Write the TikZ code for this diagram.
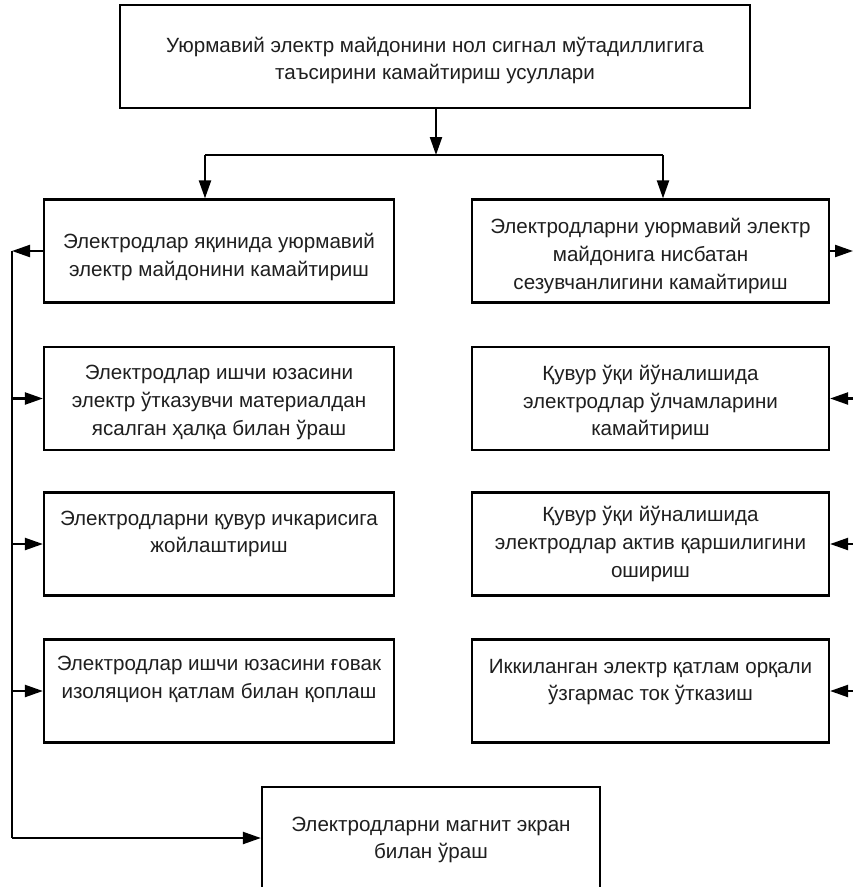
\documentclass[tikz,border=0pt]{standalone}
\usepackage{fontspec}
\setmainfont{Liberation Sans}
\usetikzlibrary{arrows.meta,calc}
\begin{document}
\begin{tikzpicture}[x=1pt,y=-1pt,
  box/.style={draw, line width=2.2pt, inner sep=0pt},
  txt/.style={align=center, inner sep=0pt,
    font=\fontsize{20.6}{27.8}\selectfont, text=black!88},
  lbox/.style={box, minimum width=350pt, minimum height=103pt},
  rbox/.style={box, minimum width=357pt, minimum height=103pt},
  conn/.style={line width=2.2pt},
  arr/.style={conn, -{Triangle[length=18pt,width=12pt]}}]
\useasboundingbox (0,0) rectangle (853,887);
\fill[white] (0,0) rectangle (853,887);

\node[box, minimum width=630pt, minimum height=103pt] (top) at (435,56.5) {};
\node[txt] (topt) at ($(top)+(0,4)$)
  {Уюрмавий электр майдонини нол сигнал мўтадиллигига\\таъсирини камайтириш усуллари};

\node[lbox] (L1) at (219,251) {};
\node[txt] (L1t) at ($(L1)+(0,6)$) {Электродлар яқинида уюрмавий\\электр майдонини камайтириш};
\node[lbox] (L2) at (219,398.5) {};
\node[txt] (L2t) at ($(L2)+(0,4)$) {Электродлар ишчи юзасини\\электр ўтказувчи материалдан\\ясалган ҳалқа билан ўраш};
\node[lbox] (L3) at (219,544) {};
\node[txt] (L3t) at ($(L3)+(0,-10)$) {Электродларни қувур ичкарисига\\жойлаштириш};
\node[lbox] (L4) at (219,691) {};
\node[txt] (L4t) at ($(L4)+(0,-12)$) {Электродлар ишчи юзасини ғовак\\изоляцион қатлам билан қоплаш};

\node[rbox] (R1) at (650.5,251) {};
\node[txt] (R1t) at ($(R1)+(0,5)$) {Электродларни уюрмавий электр\\майдонига нисбатан\\сезувчанлигини камайтириш};
\node[rbox] (R2) at (650.5,398.5) {};
\node[txt] (R2t) at ($(R2)+(0,4)$) {Қувур ўқи йўналишида\\электродлар ўлчамларини\\камайтириш};
\node[rbox] (R3) at (650.5,544) {};
\node[txt] (R3t) at ($(R3)+(0,0)$) {Қувур ўқи йўналишида\\электродлар актив қаршилигини\\ошириш};
\node[rbox] (R4) at (650.5,691) {};
\node[txt] (R4t) at ($(R4)+(0,-9)$) {Иккиланган электр қатлам орқали\\ўзгармас ток ўтказиш};

\node[box, minimum width=338pt, minimum height=104pt] (B) at (431,839) {};
\node[txt] (Bt) at ($(B)+(0,1)$) {Электродларни магнит экран\\билан ўраш};

% top connectors
\coordinate (j) at (436,155);
\coordinate (ja) at (205,155);
\coordinate (jb) at (663,155);
\draw[arr] (top.south -| j) -- (j);
\draw[conn] (ja) -- (jb);
\draw[arr] (ja) -- (ja |- L1.north);
\draw[arr] (jb) -- (jb |- R1.north);

% left bus
\coordinate (lx) at (12,0);
\coordinate (vb) at (12,838);
\draw[arr] (L1.west) -- (L1.west -| lx);
\draw[conn] (L1.west -| lx) -- (vb);
\draw[arr] (L2.west -| lx) -- (L2.west);
\draw[arr] (L3.west -| lx) -- (L3.west);
\draw[arr] (L4.west -| lx) -- (L4.west);
\draw[arr] (vb) -- (vb -| B.west);

% right side
\coordinate (rx) at (853,0);
\draw[arr] (R1.east) -- (R1.east -| rx);
\draw[arr] (R2.east -| rx) -- (R2.east);
\draw[arr] (R3.east -| rx) -- (R3.east);
\draw[arr] (R4.east -| rx) -- (R4.east);
\end{tikzpicture}
\end{document}
